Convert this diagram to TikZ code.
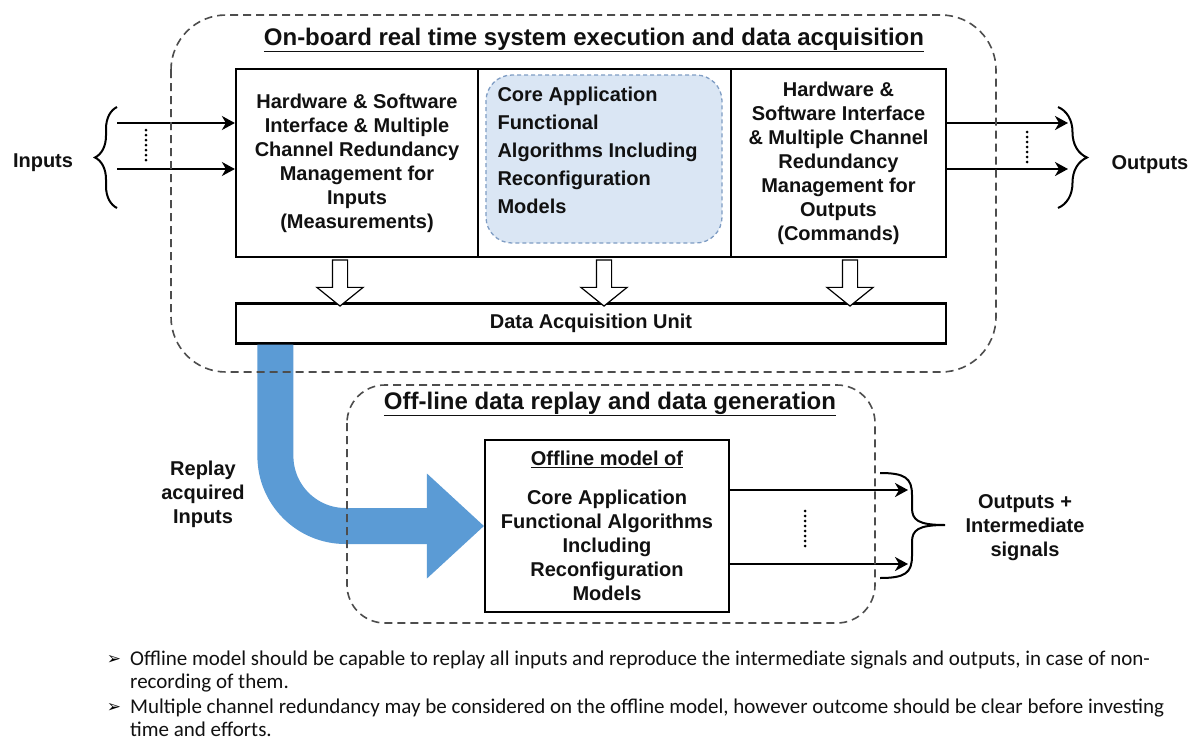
\documentclass[tikz,border=0pt]{standalone}
\usepackage{fontspec}
\setmainfont{Liberation Sans}
\newfontfamily\notefont{Carlito}
\newfontfamily\symfont{DejaVu Sans}
\usetikzlibrary{positioning,calc,arrows.meta,shapes.arrows,decorations.pathreplacing}
\definecolor{cReplay}{HTML}{5B9BD5}
\definecolor{cCore}{HTML}{DAE6F4}
\definecolor{cCoreLine}{HTML}{7F9DC4}
\definecolor{cDash}{HTML}{4D4D4D}
\definecolor{cInk}{HTML}{111111}
\tikzset{
  unitbox/.style={draw=black, fill=white, line width=2.2pt, inner sep=0pt, align=center,
    font=\fontsize{20}{24}\selectfont\bfseries, text=cInk},
  corebox/.style={draw=cCoreLine, fill=cCore, line width=1.3pt, dash pattern=on 4pt off 3pt,
    rounded corners=26pt, minimum width=236pt, minimum height=168pt},
  region/.style={draw=cDash, line width=1.6pt, dash pattern=on 8pt off 5pt, rounded corners=#1},
  heading/.style={font=\fontsize{24}{28}\selectfont\bfseries, text=cInk},
  sidetext/.style={font=\fontsize{20}{24}\selectfont\bfseries, text=cInk, align=center},
  sigarrow/.style={-{Stealth[length=13pt,width=14pt,inset=4pt]}, line width=2pt},
  dotline/.style={line width=3pt, dash pattern=on 0pt off 5pt, line cap=round},
  bracepen/.style={line width=2pt},
  hollowarrow/.style={single arrow, draw=black, fill=white, line width=1.2pt, rotate=-90,
    minimum height=46pt, minimum width=0pt, single arrow head extend=15.5pt,
    single arrow tip angle=102, single arrow head indent=0pt, inner xsep=0pt, inner ysep=7pt},
  replay/.style={draw=cReplay, line width=36pt, rounded corners=70pt,
    -{Triangle[length=57pt,width=105pt,line width=0pt]}},
  note/.style={font=\notefont\fontsize{21}{23}\selectfont, text=cInk, align=left, inner sep=0pt},
}

\begin{document}
\begin{tikzpicture}[x=1pt,y=-1pt]

  % ---------- page ----------
  \fill[white] (0,0) rectangle (1199,742);
  \useasboundingbox (0,0) rectangle (1199,742);

  % ---------- on-board units ----------
  \node[unitbox, minimum width=242pt, minimum height=188pt] (inbox) at (357,163)
    {Hardware \& Software\\Interface \& Multiple\\Channel Redundancy\\Management for\\Inputs\\(Measurements)};
  \node[unitbox, minimum width=253pt, minimum height=188pt] (corebox) at (604.5,163) {};
  \node[unitbox, minimum width=215pt, minimum height=188pt] (outbox) at (838.5,163)
    {Hardware \&\\Software Interface\\\& Multiple Channel\\Redundancy\\Management for\\Outputs\\(Commands)};
  \node[corebox] (coreinner) at (604,159) {};
  \node[font=\fontsize{20}{28}\selectfont\bfseries, text=cInk, align=left, anchor=west] (coretext) at (494,150)
    {Core Application\\Functional\\Algorithms Including\\Reconfiguration\\Models};

  \node[unitbox, minimum width=710pt, minimum height=40pt] (dau) at (591,323.5) {Data Acquisition Unit};

  \foreach \x/\name in {340/ha1, 604/ha2, 850/ha3}
    \node[hollowarrow] (\name) at (\x,280) {};

  % ---------- inputs / outputs ----------
  \node[sidetext] (inputs) at (43,163) {Inputs};
  \node[sidetext] (outputs) at (1150,165) {Outputs};

  \coordinate (in1) at (117,123);
  \coordinate (in2) at (117,169);
  \coordinate (out1) at (1068,123);
  \coordinate (out2) at (1068,169);
  \draw[sigarrow] (in1) -- (in1 -| inbox.west);
  \draw[sigarrow] (in2) -- (in2 -| inbox.west);
  \draw[sigarrow] (out1 -| outbox.east) -- (out1);
  \draw[sigarrow] (out2 -| outbox.east) -- (out2);
  \draw[dotline] (146,130) -- (146,161);
  \draw[dotline] (1027,132) -- (1027,162);

  \draw[bracepen, decorate, decoration={brace, amplitude=22pt}] (117,208) -- (117,107);
  \draw[bracepen, decorate, decoration={brace, amplitude=29pt}] (1058,107) -- (1058,208);

  % ---------- off-line model ----------
  \node[unitbox, minimum width=244pt, minimum height=172pt] (offbox) at (607,526)
    {\underline{Offline model of}\\[15pt]Core Application\\Functional Algorithms\\Including\\Reconfiguration\\Models};

  \coordinate (sig1) at (908,490);
  \coordinate (sig2) at (908,564);
  \draw[sigarrow] (offbox.east |- sig1) -- (sig1);
  \draw[sigarrow] (offbox.east |- sig2) -- (sig2);
  \draw[dotline] (805,511) -- (805,546);
  \draw[bracepen] (880,473) .. controls (905,473) and (912,478) .. (912,495) -- (912,508)
    .. controls (912,520) and (918,525) .. (945,525)
    .. controls (918,525) and (912,530) .. (912,542) -- (912,556)
    .. controls (912,573) and (905,578) .. (880,578);
  \node[sidetext] (signals) at (1025,528) {Outputs +\\Intermediate\\signals};

  % ---------- replay ----------
  \draw[replay] ($(dau.south west)+(40.5,0)$) |- (offbox.west);
  \node[sidetext] (replaytext) at (203,494) {Replay\\acquired\\Inputs};

  % ---------- regions ----------
  \draw[region=55pt] (171,15) rectangle (996,372);
  \draw[region=38pt] (347,385) rectangle (875,623);
  \node[heading] (boardtitle) at (594,40) {\underline{On-board real time system execution and data acquisition}};
  \node[heading] (offtitle) at (610,404) {\underline{Off-line data replay and data generation}};

  % ---------- notes ----------
  \node[font=\symfont\fontsize{17}{17}\selectfont] (bul1) at (114,660) {➢};
  \node[font=\symfont\fontsize{17}{17}\selectfont] (bul2) at (114,708) {➢};
  \node[note, anchor=north west] (note1) at (130,651)
    {Offline model should be capable to replay all inputs and reproduce the intermediate signals and outputs, in case of non-\\recording of them.};
  \node[note, anchor=north west] (note2) at (130,699)
    {Multiple channel redundancy may be considered on the offline model, however outcome should be clear before investing\\time and efforts.};

\end{tikzpicture}
\end{document}
